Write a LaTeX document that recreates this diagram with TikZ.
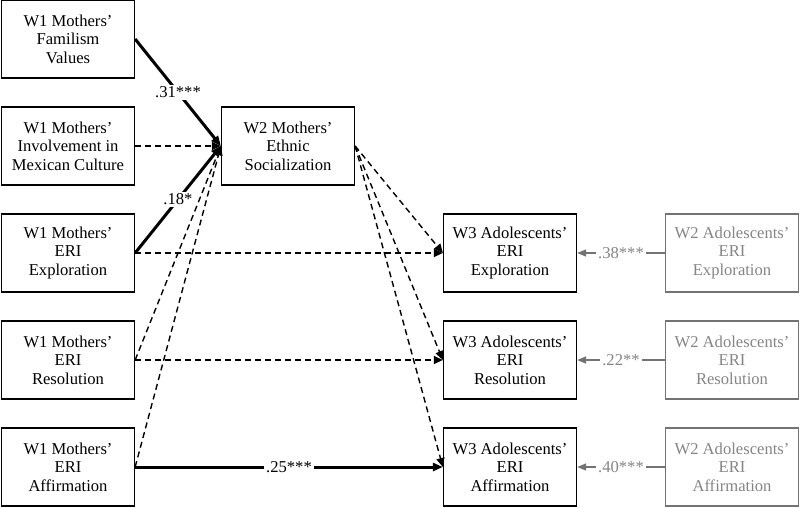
\documentclass[tikz,border=0pt]{standalone}
\usepackage{fontspec}
\setmainfont{Liberation Serif}
\usetikzlibrary{arrows.meta}
\definecolor{wavetwo}{gray}{0.45}
\definecolor{wavetwotext}{gray}{0.52}
\tikzset{
  varbox/.style={draw,line width=1.3pt,minimum width=133pt,minimum height=78pt,
    align=center,inner sep=0pt,font=\fontsize{16.6}{18.5}\selectfont},
  oldbox/.style={varbox,draw=wavetwo,text=wavetwotext},
  sig/.style={line width=3pt,-{Triangle[length=10pt,width=8pt]}},
  nonsig/.style={line width=1.4pt,dash pattern=on 6pt off 4pt,-{Triangle[length=9pt,width=8pt]}},
  stab/.style={line width=1.5pt,draw=wavetwo,-{Triangle[length=9pt,width=7pt]}},
  coef/.style={fill=white,inner sep=2pt,font=\fontsize{16.6}{18.5}\selectfont}
}

\begin{document}
\begin{tikzpicture}[x=1pt,y=-1pt]
	\useasboundingbox (0,0) rectangle (800,507);
	% wave 1 mothers
	\node[varbox] (fam) at (68,39) {W1 Mothers’\\Familism\\Values};
	\node[varbox] (inv) at (68,146) {W1 Mothers’\\Involvement in\\Mexican Culture};
	\node[varbox] (mexp) at (68,253) {W1 Mothers’\\ERI\\Exploration};
	\node[varbox] (mres) at (68,360) {W1 Mothers’\\ERI\\Resolution};
	\node[varbox] (maff) at (68,467) {W1 Mothers’\\ERI\\Affirmation};
	% wave 2 mediator
	\node[varbox] (soc) at (288,146) {W2 Mothers’\\Ethnic\\Socialization};
	% wave 3 adolescents
	\node[varbox] (aexp) at (510,253) {W3 Adolescents’\\ERI\\Exploration};
	\node[varbox] (ares) at (510,360) {W3 Adolescents’\\ERI\\Resolution};
	\node[varbox] (aaff) at (510,467) {W3 Adolescents’\\ERI\\Affirmation};
	% wave 2 adolescents
	\node[oldbox] (pexp) at (732,253) {W2 Adolescents’\\ERI\\Exploration};
	\node[oldbox] (pres) at (732,360) {W2 Adolescents’\\ERI\\Resolution};
	\node[oldbox] (paff) at (732,467) {W2 Adolescents’\\ERI\\Affirmation};

	% paths into socialization
	\draw[sig] (fam.east) -- node[coef] {.31***} (soc.west);
	\draw[nonsig] (inv.east) -- (soc.west);
	\draw[sig] (mexp.east) -- node[coef] {.18*} (soc.west);
	\draw[nonsig] (mres.east) -- (soc.west);
	\draw[nonsig] (maff.east) -- (soc.west);
	% paths out of socialization
	\draw[nonsig] (soc.east) -- (aexp.west);
	\draw[nonsig] (soc.east) -- (ares.west);
	\draw[nonsig] (soc.east) -- (aaff.west);
	% direct paths
	\draw[nonsig] (mexp.east) -- (aexp.west);
	\draw[nonsig] (mres.east) -- (ares.west);
	\draw[sig] (maff.east) -- node[coef] {.25***} (aaff.west);
	% stability paths
	\draw[stab] (pexp.west) -- node[coef,text=wavetwotext] {.38***} (aexp.east);
	\draw[stab] (pres.west) -- node[coef,text=wavetwotext] {.22**} (ares.east);
	\draw[stab] (paff.west) -- node[coef,text=wavetwotext] {.40***} (aaff.east);
\end{tikzpicture}
\end{document}
